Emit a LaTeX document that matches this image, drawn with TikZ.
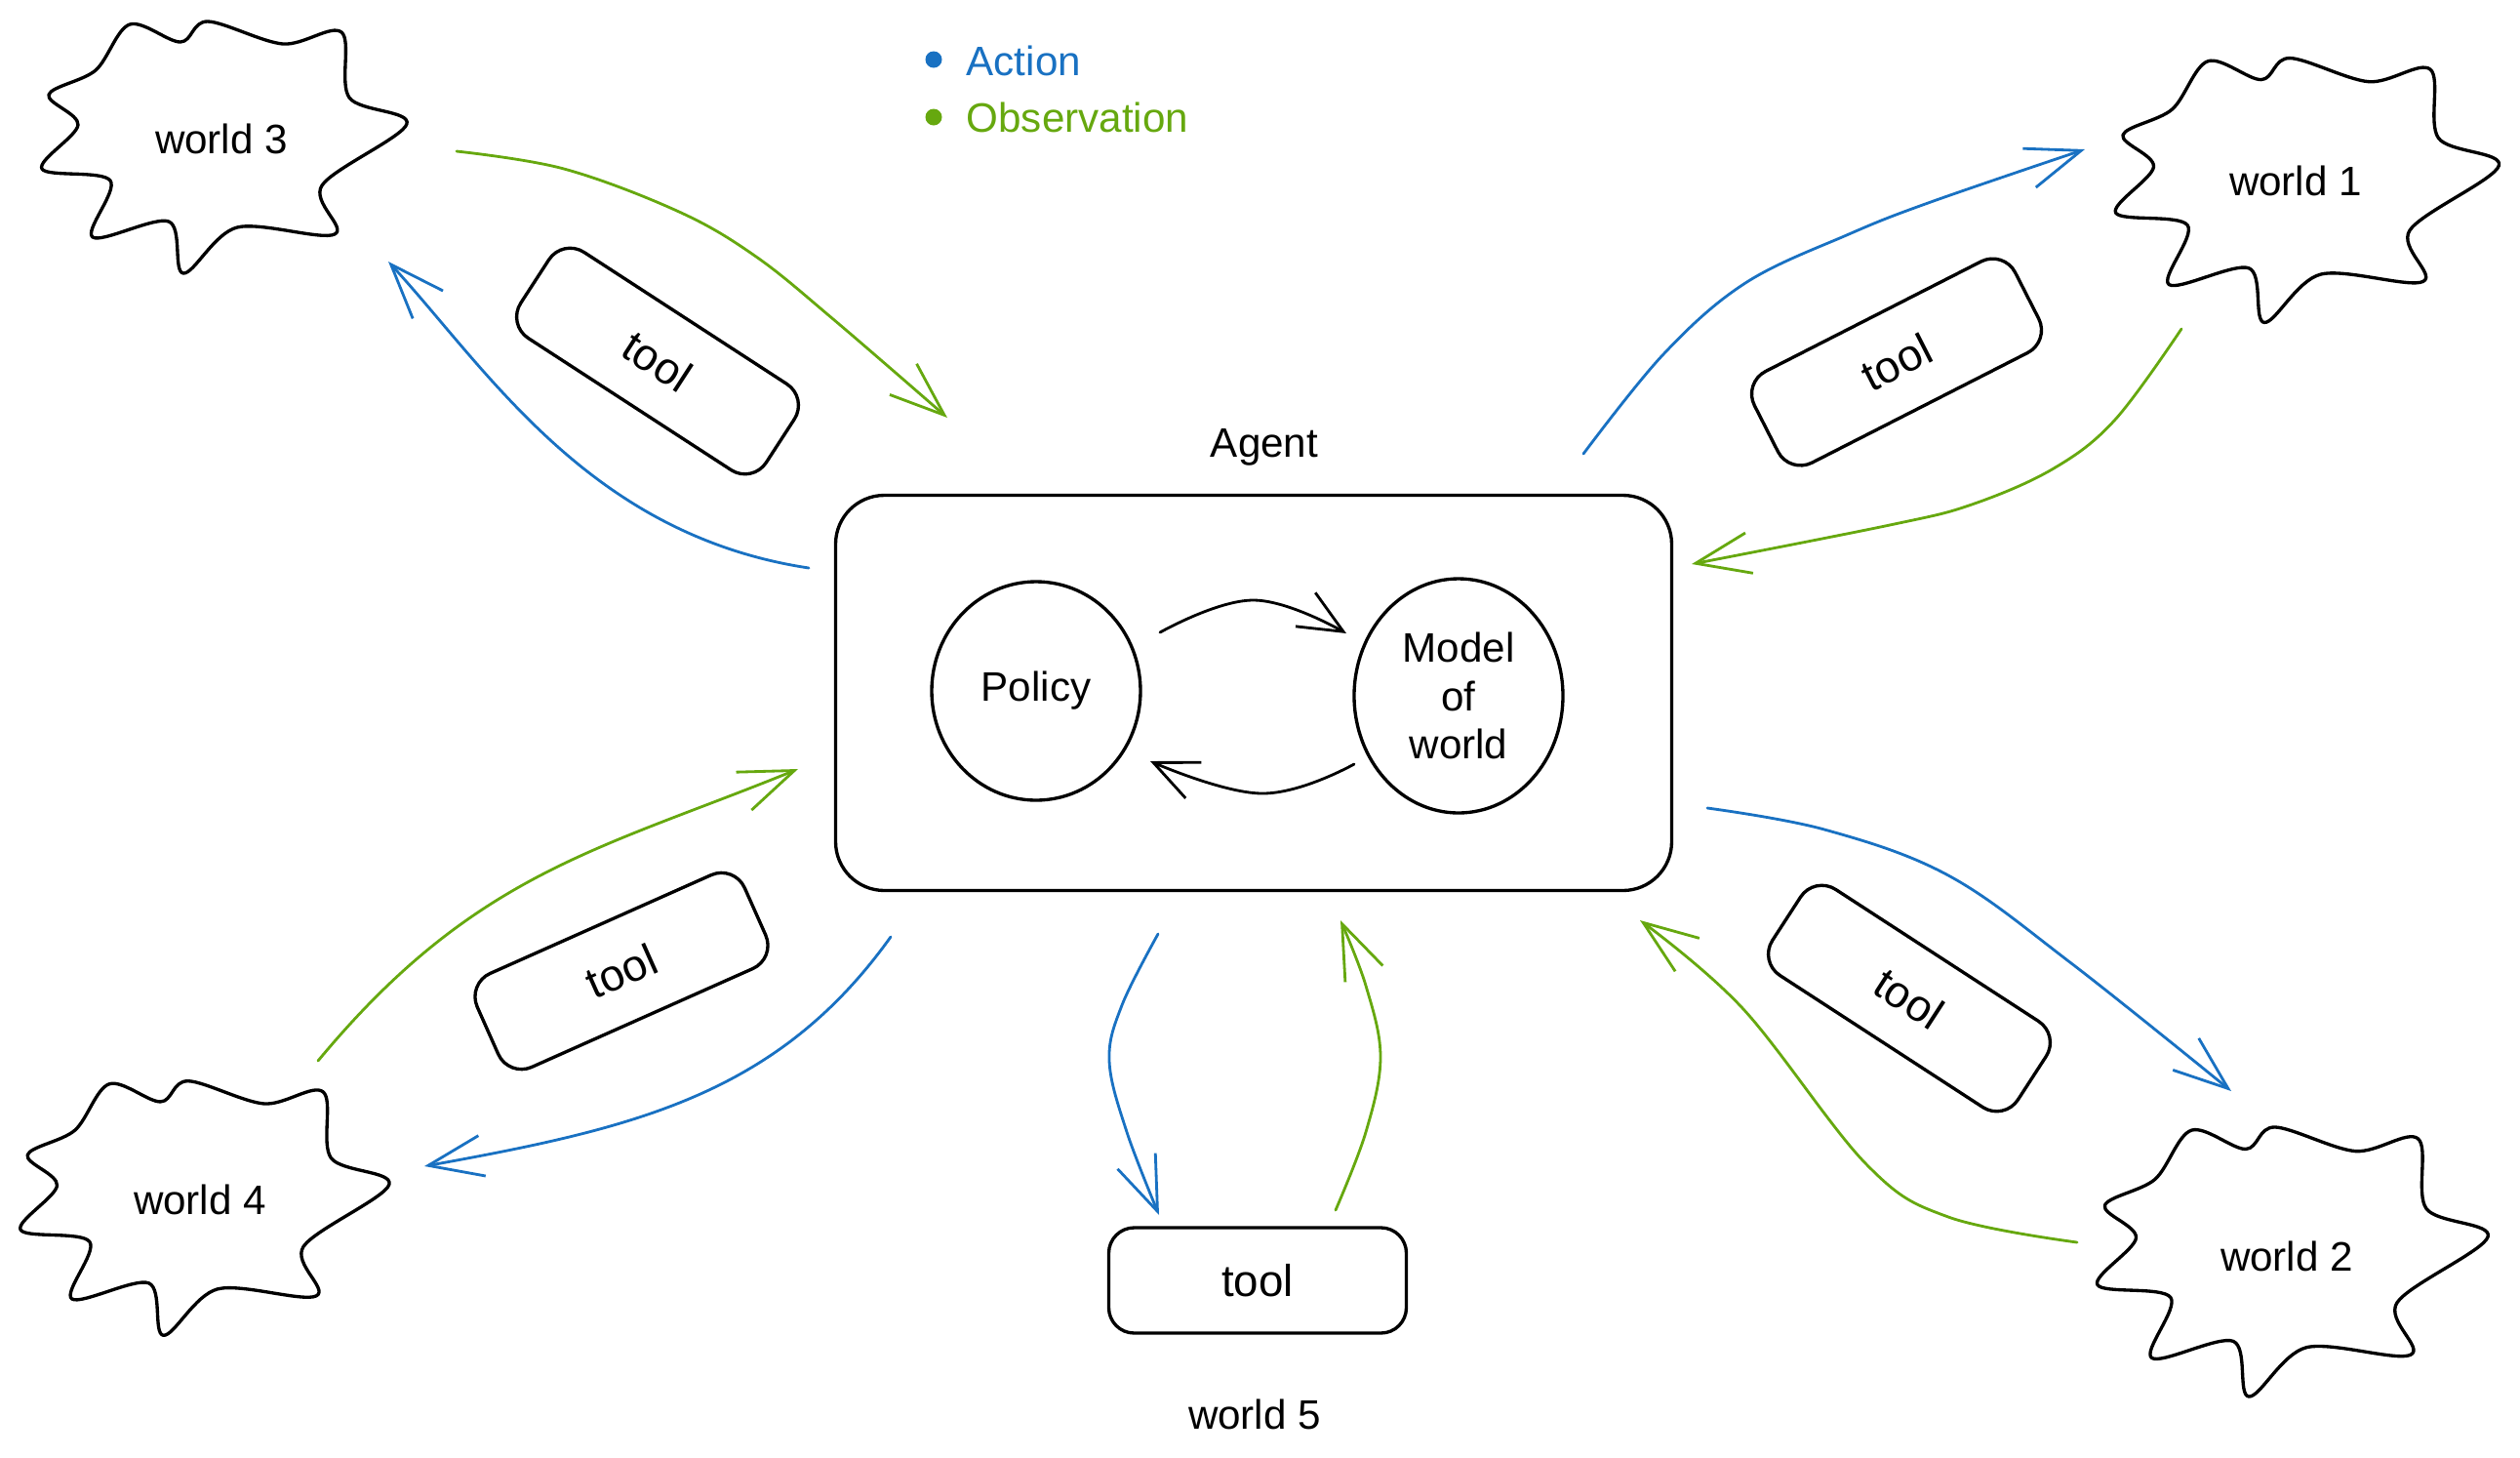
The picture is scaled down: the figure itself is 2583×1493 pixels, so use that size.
\documentclass[tikz,border=0pt]{standalone}
\usepackage{fontspec}
\setmainfont{Liberation Sans}
\usetikzlibrary{arrows.meta,shapes.geometric}
\definecolor{actblue}{HTML}{1971C2}
\definecolor{obsgreen}{HTML}{66A80F}
\newcommand\worldcloud[3]{%
  \draw[shapeline, shift={(#1,#2)}, scale=#3] plot[smooth cycle, tension=0.55] coordinates {
    (-180,-54) (-132,-79) (-97,-126) (-45,-108) (-17,-129) (60,-106) (120,-118)
    (128,-51) (187,-24) (100,39) (113,89) (13,82) (-42,129) (-57,76)
    (-135,92) (-117,34) (-187,22) (-150,-23)};
}
\begin{document}
\begin{tikzpicture}[x=0.1mm,y=-0.1mm,
  shapeline/.style={line width=0.95pt, line join=round, line cap=round},
  toolbox/.style={draw, shapeline, rounded corners=2.6mm, minimum width=30mm, minimum height=10.5mm, font=\fontsize{13}{15}\selectfont, inner sep=0pt},
  roundnode/.style={draw, shapeline, ellipse, inner sep=0pt, font=\fontsize{12}{14.2}\selectfont, align=center},
  lbl/.style={font=\fontsize{12}{14.4}\selectfont, inner sep=0pt},
  actarrow/.style={draw=actblue, line width=0.8pt, line cap=round, line join=round, -{Straight Barb[length=5.6mm,width=4.2mm]}},
  obsarrow/.style={draw=obsgreen, line width=0.8pt, line cap=round, line join=round, -{Straight Barb[length=5.6mm,width=4.2mm]}},
  looparrow/.style={draw=black, line width=0.8pt, line cap=round, line join=round, -{Straight Barb[length=4.5mm,width=4mm]}}
]
\useasboundingbox (0,0) rectangle (2583,1493);

% legend
\node[circle, fill=actblue, minimum size=1.7mm, inner sep=0pt] (dotA) at (957,61) {};
\node[circle, fill=obsgreen, minimum size=1.7mm, inner sep=0pt] (dotO) at (957,120) {};
\node[lbl, anchor=west, text=actblue] (legA) at (990,62) {Action};
\node[lbl, anchor=west, text=obsgreen] (legO) at (990,120) {Observation};

% clouds
\worldcloud{230}{151}{1.0}
\node[lbl] (w3) at (227,142) {world 3};
\worldcloud{2365}{195}{1.05}
\node[lbl] (w1) at (2353,185) {world 1};
\worldcloud{210}{1238}{1.01}
\node[lbl] (w4) at (205,1229) {world 4};
\worldcloud{2350}{1293}{1.07}
\node[lbl] (w2) at (2344,1287) {world 2};
\node[lbl] (w5) at (1286,1449) {world 5};

% agent
\node[lbl] (agentlbl) at (1296,458) {Agent};
\node[draw, shapeline, rounded corners=5mm, minimum width=85.7mm, minimum height=40.5mm] (agent) at (1285,710) {};
\node[roundnode, minimum width=21.4mm, minimum height=22.4mm] (policy) at (1062,708) {Policy};
\node[roundnode, minimum width=21.4mm, minimum height=24mm] (model) at (1495,713) {Model\\of\\world};

% tools
\node[toolbox, rotate=-33] (t3) at (674,370) {tool};
\node[toolbox, rotate=27] (t1) at (1944,371) {tool};
\node[toolbox, rotate=24] (t4) at (637,995) {tool};
\node[toolbox, rotate=-33] (t2) at (1957,1023) {tool};
\node[toolbox, minimum width=30.5mm, minimum height=10.8mm] (t5) at (1289,1312) {tool};

% inner loop arrows
\coordinate (pm1) at (1189,648);
\coordinate (pm2) at (1380,649);
\coordinate (mp1) at (1388,783);
\coordinate (mp2) at (1179,780);
\draw[looparrow] plot[smooth, tension=0.7] coordinates {(pm1) (1285,615) (pm2)};
\draw[looparrow] plot[smooth, tension=0.7] coordinates {(mp1) (1293,813) (mp2)};

% world 3
\coordinate (a1s) at (468,155);
\coordinate (a1e) at (971,428);
\draw[obsarrow] plot[smooth, tension=0.6] coordinates {(a1s) (578,173) (696,217) (775,263) (854,327) (a1e)};
\coordinate (a2s) at (829,582);
\coordinate (a2e) at (398,268);
\draw[actarrow] (a2s) .. controls (604,548) and (500,379) .. (a2e);

% world 1
\coordinate (a3s) at (1623,465);
\coordinate (a3e) at (2137,153);
\draw[actarrow] plot[smooth, tension=0.6] coordinates {(a3s) (1705,363) (1789,290) (1895,240) (1979,207) (a3e)};
\coordinate (a4s) at (2236,337);
\coordinate (a4e) at (1734,578);
\draw[obsarrow] plot[smooth, tension=0.6] coordinates {(a4s) (2168,430) (2105,480) (2021,517) (1937,538) (a4e)};

% world 4
\coordinate (a5s) at (326,1087);
\coordinate (a5e) at (818,788);
\draw[obsarrow] (a5s) .. controls (486,894) and (614,871) .. (a5e);
\coordinate (a6s) at (913,960);
\coordinate (a6e) at (435,1195);
\draw[actarrow] (a6s) .. controls (797,1122) and (651,1156) .. (a6e);

% world 2
\coordinate (a7s) at (1750,828);
\coordinate (a7e) at (2287,1118);
\draw[actarrow] plot[smooth, tension=0.6] coordinates {(a7s) (1870,850) (1997,897) (2123,987) (a7e)};
\coordinate (a8s) at (2129,1273);
\coordinate (a8e) at (1681,943);
\draw[obsarrow] plot[smooth, tension=0.6] coordinates {(a8s) (1997,1247) (1913,1193) (1786,1033) (a8e)};

% world 5
\coordinate (a9s) at (1187,957);
\coordinate (a9e) at (1188,1245);
\draw[actarrow] plot[smooth, tension=0.6] coordinates {(a9s) (1150,1030) (1137,1087) (1155,1160) (a9e)};
\coordinate (a10s) at (1369,1240);
\coordinate (a10e) at (1374,943);
\draw[obsarrow] plot[smooth, tension=0.6] coordinates {(a10s) (1400,1160) (1415,1083) (1400,1010) (a10e)};
\end{tikzpicture}
\end{document}
